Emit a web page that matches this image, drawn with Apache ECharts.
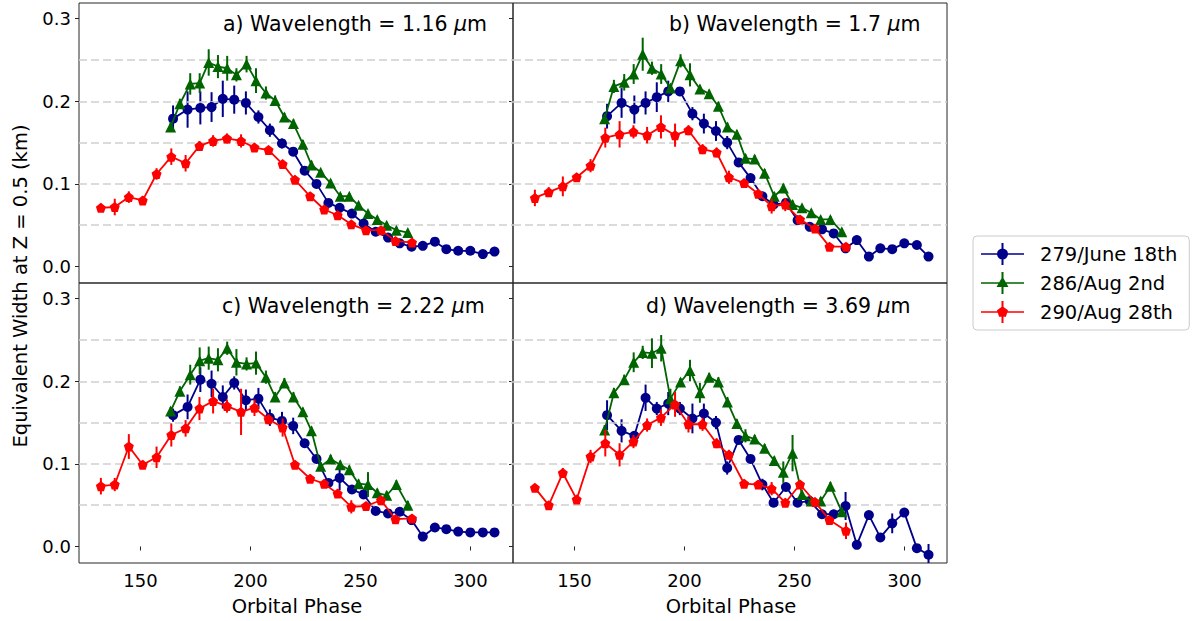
<!DOCTYPE html>
<html><head><meta charset="utf-8">
<script src="https://cdn.jsdelivr.net/npm/echarts@6/dist/echarts.min.js"></script>
<style>html,body{margin:0;padding:0;background:#fff}#c{width:1196px;height:621px}</style>
</head><body><div id="c"></div>
<script>
// ---------- DATA ----------
const seriesNames = ['279/June 18th', '286/Aug 2nd', '290/Aug 28th'];
const panelTitles = ['a) Wavelength = 1.16 ', 'b) Wavelength = 1.7 ', 'c) Wavelength = 2.22 ', 'd) Wavelength = 3.69 '];
const xTicks = [150, 200, 250, 300];
const yTicks = [0, 0.1, 0.2, 0.3];
const gridLines = [0.05, 0.1, 0.15, 0.2, 0.25];

const phaseBlue = [164.8,171.4,177.2,182.3,187.4,192.6,197.9,203.6,208.8,214.3,219.4,224.6,230.0,235.4,240.5,246.1,251.4,256.9,262.5,267.8,273.2,278.3,283.8,289.0,294.4,299.9,305.6,310.9];
const phaseGreen = [163.7,167.9,172.6,176.9,181.0,185.2,189.4,193.6,198.2,202.5,207.0,211.2,215.4,219.5,223.8,227.7,231.9,236.4,240.8,244.9,249.1,253.4,257.6,261.9,266.3,271.5];
const phaseRed = [132.0,138.3,144.7,151.0,157.3,164.0,170.5,176.8,183.0,189.3,195.7,201.8,208.2,214.6,220.2,227.1,233.5,239.6,245.8,252.5,259.3,265.9,273.4];

// panel a) 1.16 um
const blueA = [0.179,0.190,0.192,0.193,0.203,0.202,0.198,0.181,0.165,0.149,0.139,0.116,0.100,0.077,0.071,0.064,0.052,0.042,0.035,0.028,0.024,0.025,0.030,0.021,0.019,0.019,0.015,0.018];
const greenA = [0.169,0.197,0.221,0.222,0.247,0.242,0.240,0.232,0.245,0.225,0.210,0.201,0.181,0.173,0.148,0.123,0.114,0.101,0.085,0.085,0.074,0.064,0.057,0.050,0.044,0.041];
const redA = [0.071,0.072,0.084,0.080,0.112,0.133,0.125,0.146,0.152,0.155,0.152,0.144,0.141,0.124,0.105,0.085,0.069,0.062,0.051,0.044,0.044,0.031,0.029];
const errBlueA = [0.016,0.022,0.020,0.018,0.022,0.017,0.014,0.008,0.008,0.006,0.005,0.005,0.004,0.004,0.004,0.004,0.004,0.004,0.003,0.003,0.003,0.003,0.003,0.003,0.003,0.003,0.003,0.003];
const errGreenA = [0.006,0.006,0.013,0.012,0.016,0.014,0.015,0.008,0.010,0.015,0.008,0.006,0.005,0.005,0.005,0.005,0.004,0.004,0.004,0.004,0.004,0.004,0.004,0.004,0.004,0.004];
const errRedA = [0.005,0.010,0.007,0.005,0.007,0.010,0.010,0.006,0.007,0.006,0.008,0.005,0.005,0.005,0.005,0.005,0.004,0.004,0.004,0.004,0.004,0.004,0.004];

// panel b) 1.7 um
const blueB = [0.182,0.198,0.190,0.198,0.205,0.212,0.212,0.185,0.173,0.164,0.150,0.126,0.107,0.085,0.075,0.077,0.056,0.048,0.045,0.040,0.022,0.032,0.012,0.022,0.021,0.028,0.026,0.012];
const greenB = [0.179,0.218,0.223,0.233,0.257,0.240,0.233,0.216,0.249,0.232,0.215,0.209,0.194,0.169,0.160,0.131,0.130,0.113,0.085,0.095,0.075,0.071,0.065,0.057,0.057,0.042];
const redB = [0.083,0.090,0.097,0.108,0.122,0.156,0.160,0.163,0.159,0.169,0.159,0.165,0.142,0.138,0.108,0.101,0.088,0.073,0.075,0.057,0.046,0.024,0.024];
const errBlueB = [0.015,0.018,0.017,0.014,0.018,0.013,0.005,0.008,0.012,0.012,0.008,0.005,0.005,0.005,0.005,0.005,0.005,0.005,0.005,0.004,0.004,0.004,0.004,0.004,0.004,0.004,0.004,0.004];
const errGreenB = [0.006,0.008,0.010,0.012,0.020,0.008,0.012,0.005,0.008,0.014,0.005,0.005,0.005,0.005,0.005,0.005,0.005,0.005,0.005,0.005,0.005,0.004,0.004,0.004,0.004,0.004];
const errRedB = [0.010,0.006,0.012,0.005,0.008,0.012,0.016,0.008,0.010,0.014,0.014,0.006,0.006,0.006,0.008,0.005,0.005,0.009,0.008,0.005,0.005,0.004,0.004];

// panel c) 2.22 um
const blueC = [0.159,0.169,0.202,0.197,0.181,0.198,0.177,0.179,0.156,0.152,0.146,0.125,0.106,0.077,0.083,0.069,0.063,0.043,0.040,0.042,0.032,0.012,0.023,0.021,0.018,0.017,0.017,0.017];
const greenC = [0.164,0.188,0.208,0.225,0.228,0.226,0.240,0.223,0.221,0.222,0.205,0.181,0.198,0.181,0.163,0.140,0.097,0.106,0.099,0.093,0.076,0.075,0.065,0.062,0.075,0.050];
const redC = [0.073,0.075,0.121,0.099,0.108,0.135,0.143,0.167,0.176,0.170,0.163,0.168,0.154,0.144,0.099,0.082,0.076,0.064,0.048,0.049,0.056,0.033,0.034];
const errBlueC = [0.008,0.015,0.015,0.016,0.014,0.008,0.013,0.013,0.010,0.011,0.010,0.005,0.005,0.005,0.015,0.005,0.005,0.004,0.004,0.004,0.004,0.004,0.003,0.003,0.003,0.003,0.003,0.003];
const errGreenC = [0.005,0.006,0.012,0.016,0.014,0.014,0.008,0.016,0.008,0.014,0.008,0.006,0.006,0.006,0.005,0.005,0.005,0.005,0.005,0.005,0.005,0.015,0.005,0.005,0.005,0.005];
const errRedC = [0.010,0.008,0.015,0.005,0.013,0.014,0.010,0.014,0.015,0.008,0.028,0.010,0.006,0.011,0.005,0.005,0.005,0.005,0.008,0.005,0.005,0.005,0.005];

// panel d) 3.69 um
const blueD = [0.159,0.140,0.134,0.180,0.167,0.173,0.167,0.155,0.161,0.150,0.095,0.129,0.106,0.075,0.053,0.072,0.053,0.055,0.039,0.039,0.049,0.002,0.038,0.011,0.028,0.041,-0.002,-0.010];
const greenD = [0.141,0.186,0.202,0.223,0.235,0.234,0.240,0.179,0.199,0.213,0.186,0.205,0.199,0.175,0.149,0.134,0.130,0.119,0.104,0.090,0.113,0.063,0.055,0.055,0.073,0.042];
const redD = [0.071,0.050,0.089,0.057,0.109,0.125,0.111,0.127,0.147,0.156,0.172,0.148,0.148,0.125,0.111,0.076,0.075,0.070,0.053,0.075,0.054,0.032,0.019];
const errBlueD = [0.018,0.014,0.005,0.016,0.008,0.014,0.008,0.018,0.012,0.008,0.008,0.005,0.005,0.007,0.005,0.005,0.005,0.005,0.005,0.005,0.017,0.005,0.005,0.005,0.012,0.005,0.005,0.013];
const errGreenD = [0.006,0.006,0.006,0.012,0.008,0.018,0.016,0.012,0.005,0.013,0.012,0.005,0.006,0.006,0.005,0.008,0.005,0.005,0.005,0.013,0.022,0.005,0.005,0.005,0.005,0.005];
const errRedD = [0.004,0.004,0.006,0.004,0.008,0.016,0.014,0.008,0.008,0.010,0.015,0.010,0.008,0.006,0.006,0.005,0.005,0.008,0.005,0.005,0.005,0.005,0.010];

// ---------- CHART ----------
const FONT = 'DejaVu Sans';
const COLORS = ['#00008b', '#006400', '#ff0000'];
const PENT = 'path://M0,-1L0.951,-0.309L0.588,0.809L-0.588,0.809L-0.951,-0.309Z';
const SYMBOLS = ['circle', 'triangle', PENT];
const SYMSIZE = [10, 11, 10];
const phases = [phaseBlue, phaseGreen, phaseRed];
const values = [[blueA, greenA, redA], [blueB, greenB, redB], [blueC, greenC, redC], [blueD, greenD, redD]];
const errors = [[errBlueA, errGreenA, errRedA], [errBlueB, errGreenB, errRedB], [errBlueC, errGreenC, errRedC], [errBlueD, errGreenD, errRedD]];

const gridPos = [[79, 3], [513, 3], [79, 283], [513, 283]];
const titlePos = [[223, 12], [669, 12], [222, 294], [646, 294]];

const chart = echarts.init(document.getElementById('c'), null, { renderer: 'svg' });

const grid = gridPos.map(p => ({ left: p[0], top: p[1], width: 434, height: 280, show: true, borderColor: '#262626', borderWidth: 1, backgroundColor: 'transparent' }));

const xAxis = gridPos.map((p, i) => ({
  type: 'value', gridIndex: i, min: 122.05, max: 319.3,
  axisLine: { show: false },
  splitLine: { show: false },
  axisTick: { show: i >= 2, customValues: xTicks, length: 4, lineStyle: { color: '#262626', width: 1 } },
  axisLabel: { show: i >= 2, customValues: xTicks, fontSize: 18, fontFamily: FONT, color: '#000', margin: 8 }
}));
const yAxis = gridPos.map((p, i) => ({
  type: 'value', gridIndex: i, min: -0.02, max: 0.319,
  axisLine: { show: false },
  splitLine: { show: false },
  axisTick: { show: true, customValues: yTicks, length: 4, lineStyle: { color: '#262626', width: 1 } },
  axisLabel: { show: i % 2 === 0, customValues: yTicks, fontSize: 18, fontFamily: FONT, color: '#000', margin: 8, formatter: v => v.toFixed(1) }
}));

const series = [];
for (let p = 0; p < 4; p++) {
  series.push({
    type: 'line', name: 'grid', xAxisIndex: p, yAxisIndex: p, data: [], silent: true, z: 1,
    markLine: {
      silent: true, symbol: ['none', 'none'], label: { show: false },
      lineStyle: { color: '#d0d0d0', type: [8, 4], width: 1.5 },
      data: gridLines.map(v => ({ yAxis: v }))
    }
  });
  for (let k = 0; k < 3; k++) {
    const xs = phases[k], vs = values[p][k], es = errors[p][k], col = COLORS[k];
    const pts = xs.map((x, i) => [x, vs[i]]);
    series.push({
      type: 'line', name: seriesNames[k], xAxisIndex: p, yAxisIndex: p, z: 3 + 3 * k,
      data: pts, showSymbol: false, symbol: 'none', clip: true, silent: true,
      lineStyle: { color: col, width: 1.8 }, itemStyle: { color: col }
    });
    series.push({
      type: 'custom', name: 'err' + k, xAxisIndex: p, yAxisIndex: p, z: 4 + 3 * k, silent: true, clip: true,
      data: xs.map((x, i) => [x, vs[i], es[i]]),
      encode: { x: 0, y: 1 },
      renderItem: (params, api) => {
        const x = api.value(0), y = api.value(1), e = api.value(2);
        const a = api.coord([x, y - e]), b = api.coord([x, y + e]);
        return { type: 'line', shape: { x1: a[0], y1: a[1], x2: b[0], y2: b[1] }, style: { stroke: col, lineWidth: 2 } };
      }
    });
    series.push({
      type: 'scatter', name: 'mk' + k, xAxisIndex: p, yAxisIndex: p, z: 5 + 3 * k, silent: true, clip: true,
      data: pts, symbol: SYMBOLS[k], symbolSize: SYMSIZE[k],
      itemStyle: { color: col, opacity: 1, borderWidth: 0 }
    });
  }
}

const ICON_LINE = 'M0,10.25L43,10.25L43,11.75L0,11.75Z M20.5,0L22.5,0L22.5,22L20.5,22Z ';
const icons = [
  'path://' + ICON_LINE + 'M16,11A5.5,5.5 0 1,1 27,11A5.5,5.5 0 1,1 16,11Z',
  'path://' + ICON_LINE + 'M21.5,4.5L27.5,15L15.5,15Z',
  'path://' + ICON_LINE + 'M21.5,5.2L27.02,9.21L24.91,15.69L18.09,15.69L15.98,9.21Z'
];

const title = panelTitles.map((t, i) => ({
  text: '{t|' + t + '}{i|μ}{t|m}', left: titlePos[i][0], top: titlePos[i][1], padding: 0,
  textStyle: { fontWeight: 'normal', rich: {
    t: { fontSize: 20.5, fontFamily: FONT, fontWeight: 'normal', color: '#000', lineHeight: 24 },
    i: { fontSize: 20.5, fontFamily: FONT, fontWeight: 'normal', fontStyle: 'italic', color: '#000', lineHeight: 24 }
  } }
}));

chart.setOption({
  animation: false,
  backgroundColor: '#fff',
  title,
  grid, xAxis, yAxis, series,
  legend: {
    orient: 'vertical', left: 973, top: 236,
    data: seriesNames.map((n, k) => ({ name: n, icon: icons[k], itemStyle: { color: COLORS[k] } })),
    itemWidth: 43, itemHeight: 22, itemGap: 7,
    padding: [7, 12, 7, 8],
    backgroundColor: '#fff', borderColor: '#cccccc', borderWidth: 1, borderRadius: 4,
    textStyle: { fontSize: 19.5, fontFamily: FONT, color: '#000', padding: [0, 0, 0, 11] },
    selectedMode: false
  },
  graphic: [
    { type: 'text', x: 20, y: 286, rotation: Math.PI / 2,
      style: { text: 'Equivalent Width at Z = 0.5 (km)', font: '19.5px "DejaVu Sans"', fill: '#000', textAlign: 'center', textVerticalAlign: 'middle' } },
    { type: 'text', x: 297, y: 606,
      style: { text: 'Orbital Phase', font: '19.5px "DejaVu Sans"', fill: '#000', textAlign: 'center', textVerticalAlign: 'middle' } },
    { type: 'text', x: 731, y: 606,
      style: { text: 'Orbital Phase', font: '19.5px "DejaVu Sans"', fill: '#000', textAlign: 'center', textVerticalAlign: 'middle' } }
  ]
});
</script></body></html>
